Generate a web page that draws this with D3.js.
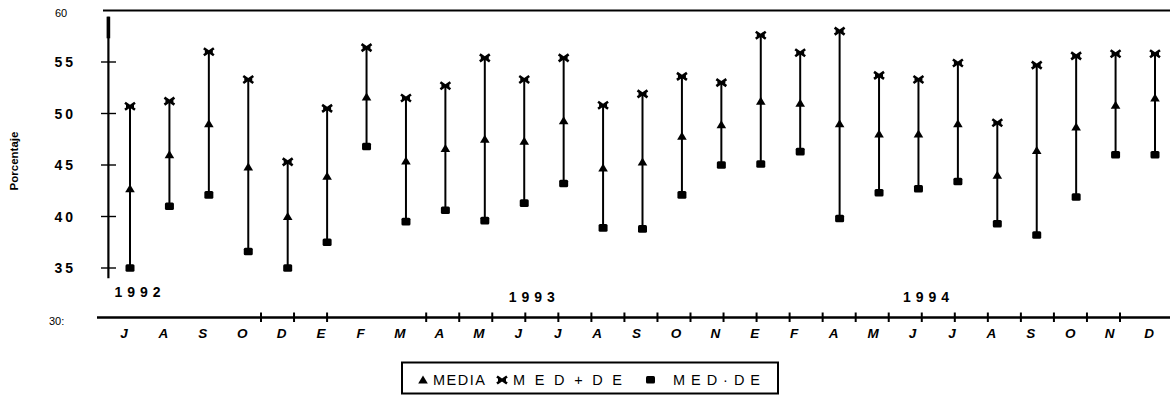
<!DOCTYPE html>
<html>
<head>
<meta charset="utf-8">
<script src="https://cdn.jsdelivr.net/npm/d3@7"></script>
<style>
  html, body { margin: 0; padding: 0; background: #fff; }
  svg { display: block; }
  text { font-family: "Liberation Sans", Arial, sans-serif; fill: #000; }
</style>
</head>
<body>
<svg id="chart" width="1170" height="396"></svg>
<script>
// Monthly percentages, July 1992 – December 1994
const months = ["J","A","S","O","D","E","F","M","A","M","J","J","A","S","O","N","E","F","A","M","J","J","A","S","O","N","D"];
const media  = [42.7,46.0,49.0,44.8,40.0,43.9,51.6,45.4,46.6,47.5,47.3,49.3,44.7,45.3,47.8,48.9,51.2,51.0,49.0,48.0,48.0,49.0,44.0,46.4,48.7,50.8,51.5];
const medMas = [50.7,51.2,56.0,53.3,45.3,50.5,56.4,51.5,52.7,55.4,53.3,55.4,50.8,51.9,53.6,53.0,57.6,55.9,58.0,53.7,53.3,54.9,49.1,54.7,55.6,55.8,55.8];
const medMenos = [35.0,41.0,42.1,36.6,35.0,37.5,46.8,39.5,40.6,39.6,41.3,43.2,38.9,38.8,42.1,45.0,45.1,46.3,39.8,42.3,42.7,43.4,39.3,38.2,41.9,46.0,46.0];
const years = ["1992","1993","1994"];
const yearAt = [0, 10, 20];           // month index each year label sits over
const yTicks = [35, 40, 45, 50, 55];
const yAxisSpan = [34.0, 59.4];        // extent of the vertical axis stroke
const bottomTickSlots = [0,1,2,5,6,7,8,9,10,11,12,13,14,15,16,17,18,19,20,21,22,23,24,25,26];

const svg = d3.select("#chart");

const x = d3.scalePoint().domain(d3.range(months.length)).range([130, 1155]);
const y = d3.scaleLinear().domain([30, 60]).range([319.5, 10.5]);
const tickX = d3.scaleLinear().domain([0, 26]).range([261, 1120]);

// frame lines: top rule and bottom baseline
svg.append("path")
  .attr("d", `M103,${y(60)}H1170`)
  .attr("stroke", "#000").attr("stroke-width", 2.2).attr("fill", "none");
svg.append("path")
  .attr("d", "M97,317.5H1170")
  .attr("stroke", "#000").attr("stroke-width", 2.6).attr("fill", "none");

// small tick marks on the baseline
svg.append("g").selectAll("path").data(bottomTickSlots).join("path")
  .attr("d", d => `M${tickX(d)},312.5V322`)
  .attr("stroke", "#000").attr("stroke-width", 2).attr("fill", "none");

const yAxis = d3.axisLeft(y).tickValues(yTicks).tickSize(0).tickPadding(0).tickFormat(d => d);
const yg = svg.append("g").attr("transform", "translate(76,0)").call(yAxis);
yg.select(".domain").remove();
yg.selectAll("text")
  .attr("font-size", 14).attr("font-weight", "bold")
  .attr("letter-spacing", 3).attr("dy", "0.35em")
  .attr("font-family", "Liberation Sans, Arial, sans-serif");

svg.append("g").selectAll("path").data(yTicks).join("path")
  .attr("d", d => `M101,${y(d)}H116`)
  .attr("stroke", "#000").attr("stroke-width", 1.4).attr("fill", "none");

// end labels of the value axis
svg.append("text").attr("x", 55).attr("y", y(60) + 6.5)
  .attr("font-size", 11).text("60");
svg.append("text").attr("x", 49).attr("y", y(30) + 5)
  .attr("font-size", 11).text("30:");

// axis title
svg.append("text")
  .attr("transform", "translate(18,161) rotate(-90)")
  .attr("text-anchor", "middle")
  .attr("font-size", 11.5).attr("font-weight", "bold")
  .text("Porcentaje");

// month labels
svg.append("g").selectAll("text").data(months).join("text")
  .attr("x", (d, i) => x(i) - 6)
  .attr("y", 338)
  .attr("text-anchor", "middle")
  .attr("font-size", 13.5).attr("font-weight", "bold").attr("font-style", "italic")
  .text(d => d);

// year labels
svg.append("g").selectAll("text").data(years).join("text")
  .attr("x", (d, i) => x(yearAt[i]) + 10)
  .attr("y", (d, i) => i === 0 ? 297 : 302)
  .attr("text-anchor", "middle")
  .attr("font-size", 14).attr("font-weight", "bold")
  .attr("letter-spacing", 5)
  .text(d => d);

// range bars from MED-DE up to MED+DE
const idx = d3.range(months.length);
svg.append("g").selectAll("path").data(idx).join("path")
  .attr("d", i => `M${x(i)},${y(medMenos[i])}V${y(medMas[i])}`)
  .attr("stroke", "#000").attr("stroke-width", 2).attr("fill", "none");

// markers
const triPath = "M0,-4.5L4.8,3.5L-4.8,3.5Z";
const xPath = "M-5,-3.5L5,3.5M5,-3.5L-5,3.5M-4,0L4,0";

svg.append("g").selectAll("path").data(idx).join("path")
  .attr("transform", i => `translate(${x(i)},${y(media[i])})`)
  .attr("d", triPath).attr("fill", "#000");

svg.append("g").selectAll("path").data(idx).join("path")
  .attr("transform", i => `translate(${x(i)},${y(medMas[i])})`)
  .attr("d", xPath).attr("fill", "none").attr("stroke", "#000").attr("stroke-width", 2.6);

svg.append("g").selectAll("rect").data(idx).join("rect")
  .attr("x", i => x(i) - 4.5).attr("y", i => y(medMenos[i]) - 3.8)
  .attr("width", 9).attr("height", 7.6).attr("rx", 1.5)
  .attr("fill", "#000");

// vertical value axis (heavier near the top)
const axisG = svg.append("g");
axisG.append("path")
  .attr("d", `M108.4,${y(yAxisSpan[1])}L108.4,${y(yAxisSpan[0])}`)
  .attr("stroke", "#000").attr("stroke-width", 2.2).attr("fill", "none");
axisG.append("path")
  .attr("d", `M108.4,${y(yAxisSpan[1])}L108.4,${y(57.3)}`)
  .attr("stroke", "#000").attr("stroke-width", 3.6).attr("fill", "none");

// legend
const lg = svg.append("g");
lg.append("rect").attr("x", 402).attr("y", 362.5).attr("width", 376).attr("height", 31)
  .attr("fill", "none").attr("stroke", "#000").attr("stroke-width", 2);
lg.append("path").attr("transform", "translate(423,380)").attr("d", triPath).attr("fill", "#000");
lg.append("path").attr("transform", "translate(502,380)").attr("d", xPath)
  .attr("fill", "none").attr("stroke", "#000").attr("stroke-width", 2.6);
lg.append("rect").attr("x", 646).attr("y", 376).attr("width", 9).attr("height", 7.6).attr("rx", 1.5).attr("fill", "#000");
const legendText = [["MEDIA", 433, 52], ["MED+DE", 513, 109], ["MED·DE", 673, 87]];
lg.selectAll("text").data(legendText).join("text")
  .attr("x", d => d[1]).attr("y", 385)
  .attr("font-size", 14.5)
  .attr("textLength", d => d[2]).attr("lengthAdjust", "spacing")
  .text(d => d[0]);
</script>
</body>
</html>
